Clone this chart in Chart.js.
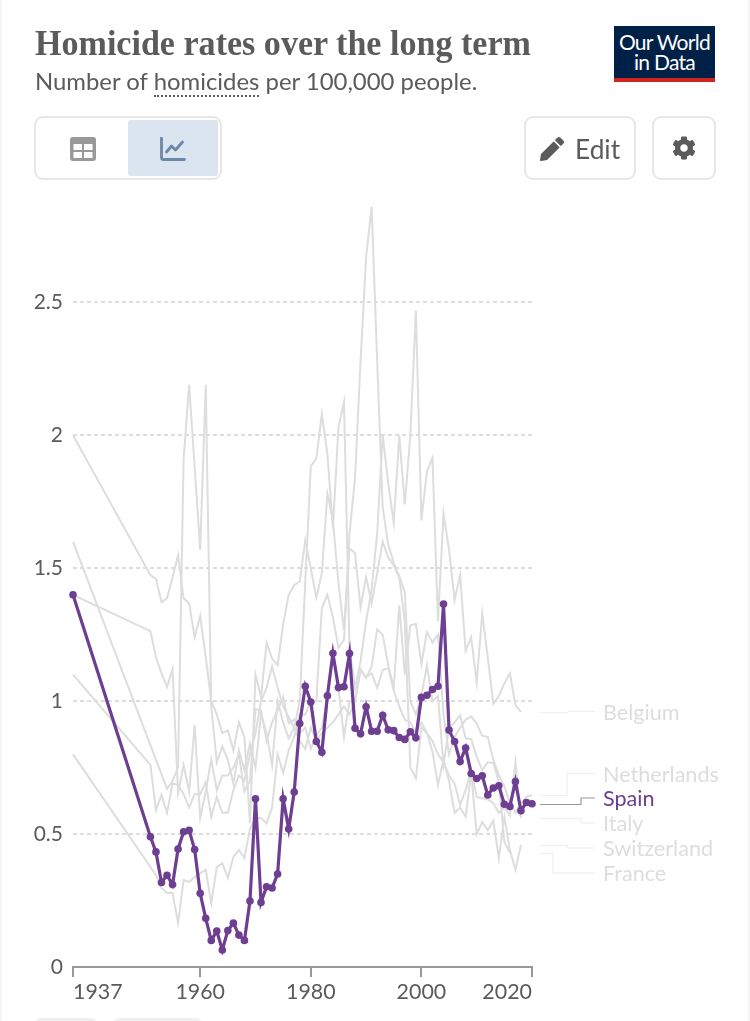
<!DOCTYPE html>
<html>
<head>
<meta charset="utf-8">
<title>Homicide rates over the long term</title>
<script src="https://cdn.jsdelivr.net/npm/chart.js@4"></script>
<style>
  html, body { margin: 0; padding: 0; background: #fff; }
  body { position: relative; width: 750px; height: 1021px; overflow: hidden; font-family: Lato, sans-serif; color: #5b5b5b; }
  body > * { position: absolute; }
  #chart { left: 0; top: 0; }
  .edge { top: 0; width: 2px; height: 1021px; background: #f5f5f5; }
  h1 { margin: 0; left: 35px; top: 24px; font: bold 35px "Liberation Serif", serif; white-space: nowrap; transform-origin: 0 0; transform: scaleX(.973); color: #5b5b5b; }
  #sub { left: 35px; top: 66px; font-size: 23.9px; white-space: nowrap; }
  #sub span { border-bottom: 2px dotted #5b5b5b; padding-bottom: 0; }
  #logo { left: 614px; top: 26px; width: 101px; height: 52px; background: #002147; border-bottom: 4px solid #ce261e; color: #fff; text-align: center; font-size: 21px; line-height: 20px; letter-spacing: -.7px; }
  #logo div { padding-top: 6px; }
  .btn { box-sizing: border-box; top: 116px; height: 64px; border: 2px solid #e7e7e7; border-radius: 9px; }
  #active { left: 128px; top: 120px; width: 90px; height: 56px; background: #dbe5f0; border-radius: 2px; }
  svg { display: block; }
  .pill { top: 1018px; height: 12px; background: #f0f0f0; border-radius: 8px; }
</style>
</head>
<body>
<canvas id="chart" width="750" height="1021"></canvas>
<div class="edge" style="left:0"></div>
<div class="edge" style="left:748px"></div>
<h1>Homicide rates over the long term</h1>
<div id="sub">Number of <span>homicides</span> per 100,000 people.</div>
<div id="logo"><div>Our World<br>in Data</div></div>

<div class="btn" style="left:34px;width:188px"></div>
<div id="active"></div>
<svg style="left:70px;top:137px" width="26" height="24" viewBox="0 0 26 24">
  <rect width="26" height="24" rx="3" fill="#999"/>
  <rect x="3.5" y="7" width="8.5" height="6" fill="#fff"/><rect x="14" y="7" width="8.5" height="6" fill="#fff"/>
  <rect x="3.5" y="15" width="8.5" height="6" fill="#fff"/><rect x="14" y="15" width="8.5" height="6" fill="#fff"/>
</svg>
<svg style="left:160px;top:137px" width="26" height="24" viewBox="0 0 26 24" fill="none" stroke="#6e87a8" stroke-width="2.8" stroke-linecap="round" stroke-linejoin="round">
  <path d="M1.5 1v19.5q0 2 2 2h21"/><path d="M6.5 15l5-6 4 4 7-8" />
</svg>

<div class="btn" style="left:524px;width:112px"></div>
<svg style="left:540px;top:137px" width="24" height="24" viewBox="0 0 512 512" fill="#5b5b5b">
  <path d="M497.9 142.1l-46.1 46.1c-4.7 4.7-12.3 4.7-17 0l-111-111c-4.7-4.7-4.7-12.3 0-17l46.1-46.1c18.7-18.7 49.1-18.7 67.9 0l60.1 60.1c18.8 18.7 18.8 49.1 0 67.9zM284.2 99.8L21.6 362.4.4 483.9c-2.9 16.4 11.4 30.6 27.8 27.8l121.5-21.3 262.6-262.6c4.7-4.7 4.7-12.3 0-17l-111-111c-4.8-4.7-12.4-4.7-17.1 0z"/>
</svg>
<div style="left:575px;top:133px;font-size:26.3px">Edit</div>

<div class="btn" style="left:652px;width:64px"></div>
<svg style="left:672px;top:136px" width="24" height="24" viewBox="0 0 512 512" fill="#5b5b5b">
  <path d="M487.4 315.7l-42.6-24.6c4.3-23.2 4.3-47 0-70.2l42.6-24.6c4.9-2.8 7.1-8.6 5.5-14-11.1-35.6-30-67.8-54.7-94.6-3.8-4.1-10-5.1-14.8-2.3L380.8 110c-17.9-15.4-38.5-27.3-60.8-35.1V25.8c0-5.6-3.9-10.5-9.4-11.7-36.7-8.2-74.3-7.8-109.2 0-5.5 1.2-9.4 6.1-9.4 11.7V75c-22.2 7.9-42.8 19.8-60.8 35.1L88.7 85.5c-4.9-2.8-11-1.9-14.8 2.3-24.7 26.7-43.6 58.9-54.7 94.6-1.7 5.4.6 11.2 5.5 14L67.3 221c-4.3 23.2-4.3 47 0 70.2l-42.6 24.6c-4.9 2.8-7.1 8.6-5.5 14 11.1 35.6 30 67.8 54.7 94.6 3.8 4.1 10 5.1 14.8 2.3l42.6-24.6c17.9 15.4 38.5 27.3 60.8 35.1v49.2c0 5.6 3.9 10.5 9.4 11.7 36.7 8.2 74.3 7.8 109.2 0 5.5-1.2 9.4-6.1 9.4-11.7v-49.2c22.2-7.9 42.8-19.8 60.8-35.1l42.6 24.6c4.9 2.8 11 1.9 14.8-2.3 24.7-26.7 43.6-58.9 54.7-94.6 1.5-5.5-.7-11.3-5.6-14.1zM256 336c-44.1 0-80-35.9-80-80s35.9-80 80-80 80 35.9 80 80-35.9 80-80 80z"/>
</svg>
<div class="pill" style="left:35px;width:62px"></div>
<div class="pill" style="left:113px;width:89px"></div>

<script>
// years: 1937, then every year from 1951 on
const years = [1937,
  1951,1952,1953,1954,1955,1956,1957,1958,1959,
  1960,1961,1962,1963,1964,1965,1966,1967,1968,1969,
  1970,1971,1972,1973,1974,1975,1976,1977,1978,1979,
  1980,1981,1982,1983,1984,1985,1986,1987,1988,1989,
  1990,1991,1992,1993,1994,1995,1996,1997,1998,1999,
  2000,2001,2002,2003,2004,2005,2006,2007,2008,2009,
  2010,2011,2012,2013,2014,2015,2016,2017,2018,2019,2020];

const spain = [1.40,
  .49,.433,.318,.345,.31,.444,.509,.514,.442,
  .277,.183,.10,.135,.064,.137,.165,.12,.10,.248,
  .633,.243,.302,.297,.35,.633,.519,.658,.916,1.056,
  .997,.848,.808,1.02,1.18,1.051,1.054,1.179,.898,.877,
  .979,.887,.887,.947,.892,.889,.863,.856,.885,.862,
  1.014,1.022,1.044,1.056,1.365,.891,.848,.773,.824,.728,
  .709,.719,.647,.673,.682,.612,.604,.698,.588,.619,.614];

const belgium = [1.6,
  null,null,null,.67,.70,.75,1.91,2.19,1.88,
  1.57,2.19,.98,.77,.83,.78,.69,.815,.74,.84,
  .75,.95,.88,.76,1.0,.92,.86,.90,1.0,1.45,
  1.883,1.913,2.08,1.93,1.65,2.03,2.125,1.20,1.05,1.15,
  1.30,1.42,1.63,2.0,1.82,1.67,2.0,1.74,2.0,2.47,
  1.68,1.865,1.915,1.30,1.705,1.57,1.38,1.474,1.19,1.24,
  1.07,1.33,1.165,.99,1.02,1.067,1.105,.985,.96,null,null];

const netherlands = [1.4,
  1.263,1.165,1.105,1.053,1.12,.654,.76,.66,.91,
  .56,.66,.78,.665,.72,.72,.75,.80,.66,.70,
  .97,.966,.85,.92,.966,1.015,.917,.93,.88,.90,
  .82,.87,.90,1.02,1.18,1.05,.865,1.0,1.0,1.117,
  1.087,1.13,1.27,1.25,1.135,1.05,1.36,1.10,1.285,1.29,
  1.14,1.26,1.22,1.25,.95,.80,.865,.90,.93,.943,
  .915,.87,.865,.78,.72,.68,.617,.58,.617,.64,.647];

const italy = [1.1,
  .76,.59,.647,.58,.69,.685,.65,.60,.65,
  .65,.695,.564,.64,.58,.58,.665,.72,.70,.80,
  .88,1.0,1.05,1.13,1.05,.98,.94,.90,.85,.82,
  .90,.85,.88,.90,.92,.95,.98,.95,1.0,1.12,
  1.09,1.105,1.05,1.117,1.124,1.04,.98,.93,.92,.88,
  .92,.88,.85,.80,.77,.72,.69,.61,.665,.74,
  .64,.635,.63,.617,.58,.60,.57,.77,.56,null,null];

const switzerland = [2.0,
  1.474,1.46,1.372,1.387,1.466,1.549,1.387,1.368,1.241,
  1.32,1.166,1.0,.95,.88,.89,.815,.92,.865,.54,
  1.10,1.015,1.22,1.16,1.135,1.29,1.40,1.436,1.45,1.605,
  1.50,1.39,1.48,1.78,1.68,1.444,1.267,1.575,1.556,1.354,
  1.466,1.368,1.48,1.60,1.54,1.51,1.466,1.30,.75,.71,
  .90,.88,.81,.685,.78,.70,.58,.60,.565,.73,
  .50,.545,.515,.55,.41,.565,.44,.365,.46,null,null];

const france = [.8,
  .376,.345,.297,.278,.278,.165,.327,.32,.338,
  .353,.365,.24,.376,.39,.335,.414,.44,.41,.52,
  .56,.56,.54,.60,.80,.73,.815,.865,.95,.95,
  1.0,1.0,1.35,1.40,1.316,1.20,1.23,1.63,1.84,2.28,
  2.67,2.86,2.28,1.73,1.59,1.52,1.47,1.41,1.0,.95,
  1.02,1.135,1.0,1.02,.76,.90,.92,.947,.86,.857,
  .79,.74,.77,.767,.695,.47,.43,null,null,null,null];

const xTicks = [1937, 1960, 1980, 2000, 2020];
const yTicks = [0, 0.5, 1, 1.5, 2, 2.5];

const GREY = '#dddddd';
const PURPLE = '#6d3e91';
const TEXT = '#5b5b5b';

function points(values) {
  return values.map((v, i) => ({ x: years[i], y: v }));
}

function greyLine(label, values) {
  return {
    label: label, data: points(values), order: 1,
    borderColor: GREY, borderWidth: 2, pointRadius: 0,
    spanGaps: true, clip: false, tension: 0
  };
}

// series names at the right, with the stepped leader line from the last value
const endLabels = {
  id: 'endLabels',
  afterDatasetsDraw(chart) {
    const c = chart.ctx;
    const yScale = chart.scales.y;
    // text rows and elbow of each leader, in page pixels
    const rows = {
      Belgium: [711.5, 568], Netherlands: [773.5, 567], Spain: [798, 581],
      Italy: [823, 581], Switzerland: [848, 567], France: [873, 553]
    };
    chart.data.datasets.forEach(ds => {
      const [rowY, elbow] = rows[ds.label];
      const last = ds.data.filter(p => p.y !== null).pop();
      const y0 = Math.round(yScale.getPixelForValue(last.y)) + 0.5;
      const isSpain = ds.label === 'Spain';
      c.save();
      c.strokeStyle = isSpain ? '#999999' : '#eeeeee';
      c.lineWidth = 1.2;
      c.beginPath();
      c.moveTo(540, y0);
      c.lineTo(elbow, y0);
      c.lineTo(elbow, rowY);
      c.lineTo(595, rowY);
      c.stroke();
      c.fillStyle = isSpain ? PURPLE : GREY;
      c.font = '21.6px Lato';
      c.textAlign = 'left';
      c.textBaseline = 'middle';
      c.fillText(ds.label, 603, rowY + 1.5);
      c.restore();
    });
  }
};

new Chart(document.getElementById('chart'), {
  type: 'line',
  data: {
    datasets: [
      {
        label: 'Spain', data: points(spain), order: 0,
        borderColor: PURPLE, backgroundColor: PURPLE, borderWidth: 3.2,
        pointRadius: 3.8, pointBackgroundColor: PURPLE, pointBorderWidth: 0,
        clip: false, tension: 0
      },
      greyLine('Belgium', belgium),
      greyLine('Netherlands', netherlands),
      greyLine('Italy', italy),
      greyLine('Switzerland', switzerland),
      greyLine('France', france)
    ]
  },
  options: {
    responsive: false,
    animation: false,
    layout: { padding: { top: 196, right: 218, left: 0, bottom: 0 } },
    plugins: { legend: { display: false }, tooltip: { enabled: false } },
    scales: {
      x: {
        type: 'linear', min: 1937, max: 2020,
        afterBuildTicks(s) { s.ticks = xTicks.map(v => ({ value: v })); },
        afterFit(s) { s.height = 54; },
        border: { color: '#999999', width: 2 },
        grid: { drawOnChartArea: false, color: '#999999', lineWidth: 2, tickLength: 10 },
        ticks: {
          align: 'inner', autoSkip: false, maxRotation: 0, padding: 2,
          color: TEXT, font: { family: 'Lato', size: 21.4 },
          callback: v => String(v)
        }
      },
      y: {
        min: 0, max: 2.9,
        afterBuildTicks(s) { s.ticks = yTicks.map(v => ({ value: v })); },
        afterFit(s) { s.width = 73; },
        border: { display: false, dash: [4, 3] },
        grid: {
          drawTicks: false, lineWidth: 2,
          color: ctx => ctx.tick.value === 0 ? 'transparent' : '#dddddd'
        },
        ticks: {
          padding: 10, color: TEXT, font: { family: 'Lato', size: 21 },
          callback: v => String(v)
        }
      }
    }
  },
  plugins: [endLabels]
});
</script>
</body>
</html>
